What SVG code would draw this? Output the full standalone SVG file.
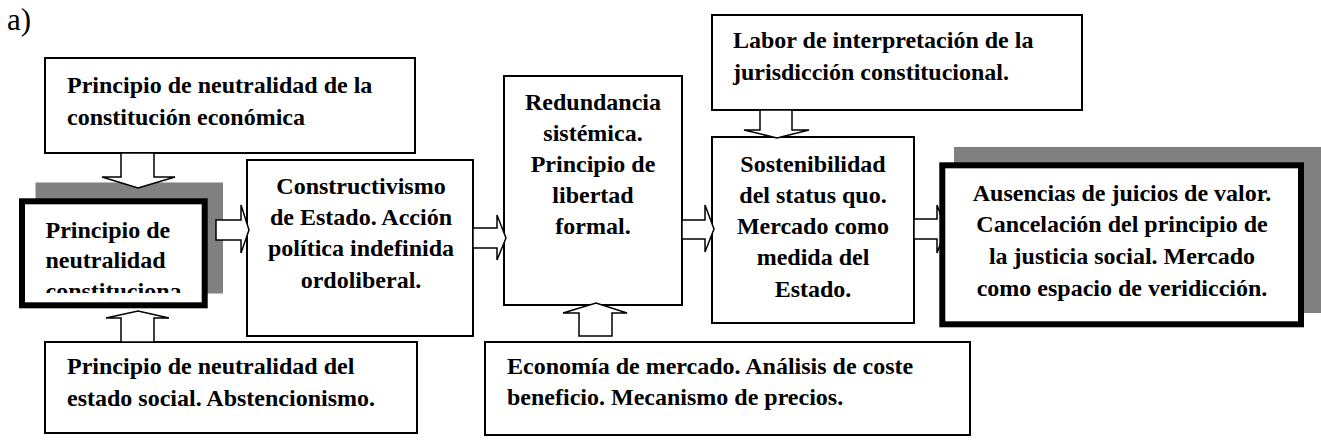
<svg xmlns="http://www.w3.org/2000/svg" width="1321" height="445" viewBox="0 0 1321 445">
<style>
.box{fill:#fff;stroke:#000;stroke-width:2}
.thick{fill:#fff;stroke:#000;stroke-width:6}
.shadow{fill:#808080}
.arr{fill:#fff;stroke:#000;stroke-width:1.5;stroke-linejoin:miter}
.t{font-family:"Liberation Serif","Times New Roman",serif;font-weight:bold;font-size:24px;fill:#000}
.c{text-anchor:middle}
</style>
<defs>
<clipPath id="clipN"><rect x="25" y="204" width="177" height="89"/></clipPath>
</defs>
<rect width="1321" height="445" fill="#fff"/>
<text x="7" y="29.5" font-family="Liberation Serif, serif" font-size="31">a)</text>

<g id="n-top">
<rect class="box" x="45" y="58" width="370" height="95"/>
<text class="t" x="67" y="92.5">Principio de neutralidad de la</text>
<text class="t" x="67" y="124.5">constitución económica</text>
</g>

<g id="n-neutral">
<rect class="shadow" x="35.5" y="182.5" width="187.5" height="111"/>
</g>

<g id="n-bottom">
<rect class="box" x="45" y="342" width="372" height="91"/>
<text class="t" x="67" y="374">Principio de neutralidad del</text>
<text class="t" x="67" y="406">estado social. Abstencionismo.</text>
</g>

<g id="n-constr">
<rect class="box" x="247" y="160" width="226" height="176"/>
<text class="t c" x="361" y="194">Constructivismo</text>
<text class="t c" x="361" y="225">de Estado. Acción</text>
<text class="t c" x="361" y="256">política indefinida</text>
<text class="t c" x="361" y="288">ordoliberal.</text>
</g>

<g id="n-redund">
<rect class="box" x="504" y="76" width="178" height="229"/>
<text class="t c" x="593" y="109.5">Redundancia</text>
<text class="t c" x="593" y="140.5">sistémica.</text>
<text class="t c" x="593" y="171.5">Principio de</text>
<text class="t c" x="593" y="202.5">libertad</text>
<text class="t c" x="593" y="234">formal.</text>
</g>

<g id="n-econ">
<rect class="box" x="485" y="342" width="485" height="93"/>
<text class="t" x="507" y="374">Economía de mercado. Análisis de coste</text>
<text class="t" x="507" y="405">beneficio. Mecanismo de precios.</text>
</g>

<g id="n-labor">
<rect class="box" x="712" y="15" width="370" height="95"/>
<text class="t" x="733" y="48">Labor de interpretación de la</text>
<text class="t" x="733" y="80">jurisdicción constitucional.</text>
</g>

<g id="n-sost">
<rect class="box" x="712" y="137" width="202" height="186"/>
<text class="t c" x="813" y="172">Sostenibilidad</text>
<text class="t c" x="813" y="203">del status quo.</text>
<text class="t c" x="813" y="234">Mercado como</text>
<text class="t c" x="813" y="265">medida del</text>
<text class="t c" x="813" y="297">Estado.</text>
</g>

<g id="n-aus-shadow">
<rect class="shadow" x="954" y="147" width="367" height="166"/>
</g>

<g id="connectors">
<polygon class="arr" points="121,153 154,153 154,177 175,177 138,188 102,177 121,177"/>
<polygon class="arr" points="121,342 154,342 154,318 169,318 138,311 106,318 121,318"/>
<polygon class="arr" points="216,220 241,220 241,205 249,230 241,253 241,240 216,240"/>
<polygon class="arr" points="473,228 497,228 497,215 506,238 497,260 497,248 473,248"/>
<polygon class="arr" points="579,336 612,336 612,313 627,313 596,303 563,313 579,313"/>
<polygon class="arr" points="682,220 705,220 705,205 714,229 705,252 705,239 682,239"/>
<polygon class="arr" points="760,110 792,110 792,130 809,130 777,138 744,130 760,130"/>
<polygon class="arr" points="914,219 937,219 937,205 946,229 937,253 937,239 914,239"/>
</g>

<g id="n-neutral-box">
<rect class="thick" x="22" y="201.3" width="182.7" height="104"/>
<g clip-path="url(#clipN)">
<text class="t" x="45.5" y="238">Principio de</text>
<text class="t" x="45.5" y="268">neutralidad</text>
<text class="t" x="45.5" y="299">constituciona</text>
</g>
</g>

<g id="n-aus">
<rect class="thick" x="942.3" y="165.3" width="358.7" height="159"/>
<text class="t c" x="1122" y="201">Ausencias de juicios de valor.</text>
<text class="t c" x="1122" y="232">Cancelación del principio de</text>
<text class="t c" x="1122" y="264">la justicia social. Mercado</text>
<text class="t c" x="1122" y="296">como espacio de veridicción.</text>
</g>
</svg>
